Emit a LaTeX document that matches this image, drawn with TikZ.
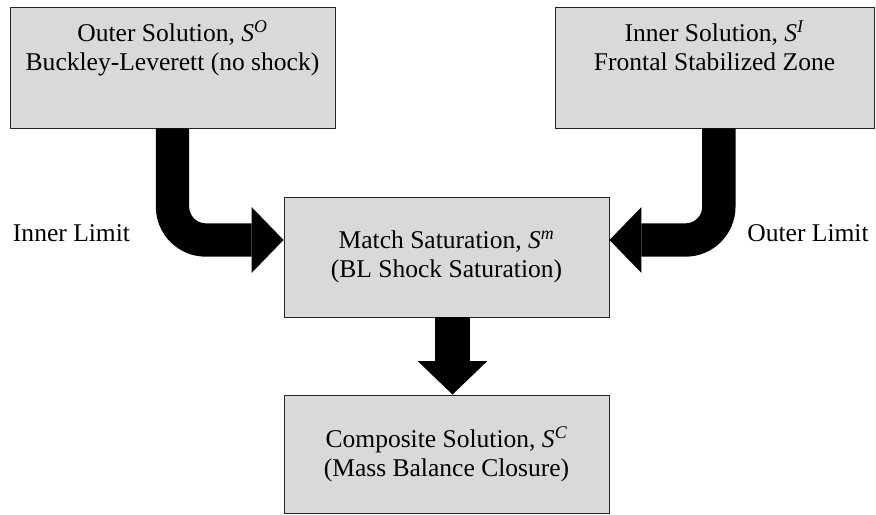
\documentclass[tikz,border=0pt]{standalone}
\usepackage{fontspec}
\setmainfont{Liberation Serif}
\newcommand{\symS}[1]{\textit{S}\textsuperscript{\textit{#1}}}

\begin{document}
\begin{tikzpicture}[x=0.03cm, y=-0.03cm,
    blockbox/.style={draw=black!85, line width=0.8pt, rectangle, fill=gray!30, align=center,
      font=\fontsize{21.8}{24.8}\selectfont},
    toptext/.style={text depth=1.3cm},
    fatshaft/.style={line width=1cm, rounded corners=1cm}]

\useasboundingbox (0,0) rectangle (876,515);

% the two limits on top
\node[blockbox, toptext, minimum width=9.75cm, minimum height=3.63cm] (outer) at (172.5,67.5)
  {Outer Solution, \symS{O}\\Buckley-Leverett (no shock)};
\node[blockbox, toptext, minimum width=9.57cm, minimum height=3.63cm] (inner) at (714.5,67.5)
  {Inner Solution, \symS{I}\\Frontal Stabilized Zone};

% matching and composite
\node[blockbox, minimum width=9.75cm, minimum height=3.6cm] (match) at (446.5,257)
  {Match Saturation, \symS{m}\\(BL Shock Saturation)};
\node[blockbox, minimum width=9.75cm, minimum height=3.54cm] (comp) at (446.5,454)
  {Composite Solution, \symS{C}\\(Mass Balance Closure)};

% side labels
\node[font=\fontsize{21.8}{24.8}\selectfont] (innerlim) at (71.5,233) {Inner Limit};
\node[font=\fontsize{21.8}{24.8}\selectfont] (outerlim) at (808,233) {Outer Limit};

% arrow ends
\coordinate (ltip) at ([yshift=0.51cm]match.west);
\coordinate (lbase) at ([xshift=-0.96cm, yshift=0.51cm]match.west);
\coordinate (rtip) at ([yshift=0.51cm]match.east);
\coordinate (rbase) at ([xshift=0.96cm, yshift=0.51cm]match.east);
\coordinate (dtip) at ([xshift=0.18cm]comp.north);
\coordinate (dbase) at ([xshift=0.18cm, yshift=1.0cm]comp.north);

% outer -> match
\draw[fatshaft] (outer.south) |- (lbase);
\fill (ltip) -- ([yshift=0.99cm]lbase) -- ([yshift=-0.99cm]lbase) -- cycle;

% inner -> match
\draw[fatshaft] ([xshift=0.13cm]inner.south) |- (rbase);
\fill (rtip) -- ([yshift=0.99cm]rbase) -- ([yshift=-0.99cm]rbase) -- cycle;

% match -> composite
\draw[line width=1.05cm] ([xshift=0.18cm]match.south) -- (dbase);
\fill (dtip) -- ([xshift=-1.04cm]dbase) -- ([xshift=1.04cm]dbase) -- cycle;

\end{tikzpicture}
\end{document}
